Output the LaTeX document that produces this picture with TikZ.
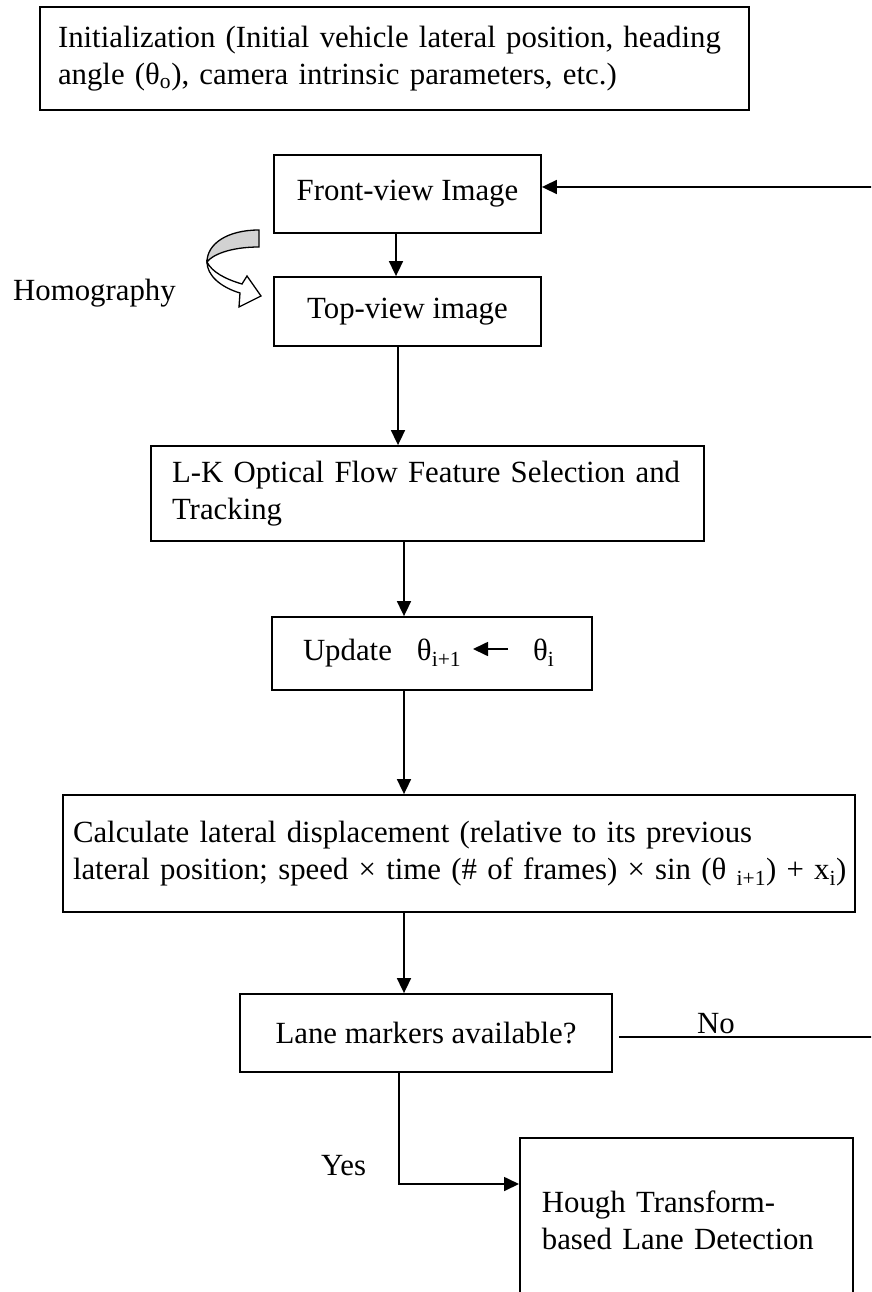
\documentclass[tikz,border=0pt]{standalone}
\usepackage{fontspec}
\setmainfont{Liberation Serif}
\usetikzlibrary{arrows.meta}
\tikzset{flowbox/.style={draw, line width=1.8pt, inner sep=0pt, align=center}}
\tikzset{flowline/.style={line width=1.7pt, -{Triangle[length=15pt,width=14pt]}}}
\tikzset{plainline/.style={line width=1.7pt}}

\begin{document}
\begin{tikzpicture}[x=1pt, y=-1pt, font=\fontsize{30.8}{37}\selectfont]
   \clip (0,0) rectangle (871,1292);
   \fill[white] (0,0) rectangle (871,1292);
   \node[flowbox, align=left, text width=673pt, inner xsep=18pt, minimum height=103pt] (init) at (394.5,58.5) {Initialization (Initial vehicle lateral position, heading\\angle (θ\textsubscript{o}), camera intrinsic parameters, etc.)};
   \node[flowbox, minimum width=267pt, minimum height=78pt] (front) at (407.5,194) {Front-view Image};
   \node[flowbox, minimum width=267pt, minimum height=69pt] (top) at (407.5,311.5) {Top-view image};
   \node[anchor=base west, inner sep=0pt] (homog) at (13,300) {Homography};
   \node[flowbox, align=left, text width=511pt, inner xsep=21pt, minimum height=95pt] (lk) at (427.5,493.5) {L-K Optical Flow Feature Selection and\\Tracking};
   \node[flowbox, align=left, text width=258pt, inner xsep=31pt, minimum height=73pt] (upd) at (432,653.5) {\raisebox{-11pt}{\makebox[114pt][l]{Update}\makebox[116pt][l]{θ\textsubscript{i+1}}θ\textsubscript{i}}};
   \node[flowbox, align=left, text width=772pt, inner xsep=10pt, minimum height=117pt] (calc) at (459,853.5) {Calculate lateral displacement (relative to its previous\\\mbox{lateral position; speed × time (\# of frames) × sin (θ \textsubscript{i+1}) + x\textsubscript{i})}};
   \node[flowbox, minimum width=372pt, minimum height=78pt] (lane) at (426,1033) {Lane markers available?};
   \node[flowbox, anchor=north west, align=left, text width=289pt, inner xsep=22pt, minimum height=164pt] (hough) at (519,1137) {Hough Transform-\\based Lane Detection};
   \node[anchor=base west, inner sep=0pt] (yes) at (321,1175) {Yes};
   \node[anchor=base west, inner sep=0pt] (no) at (697,1033) {No};
   % homography arrow
   \filldraw[line width=1.3pt, fill=gray!35] (259,230) .. controls (227,230) and (207,244) .. (207,262) .. controls (212,255) and (230,247) .. (259,247) -- cycle;
   \filldraw[line width=1.3pt, fill=white] (207,262) .. controls (207,275) and (220,287) .. (240,293) -- (239,307) -- (261,296) -- (247,276) -- (242,284) .. controls (225,279) and (212,272) .. (207,262) -- cycle;
   % main flow
   \draw[flowline] ([xshift=-11.5pt]front.south) coordinate (a1) -- (a1 |- top.north);
   \draw[flowline] ([xshift=-9.5pt]top.south) coordinate (a2) -- (a2 |- lk.north);
   \draw[flowline] ([xshift=-23.5pt]lk.south) coordinate (a3) -- (a3 |- upd.north);
   \draw[flowline] ([xshift=-28pt]upd.south) coordinate (a4) -- (a4 |- calc.north);
   \draw[flowline] ([xshift=-55pt]calc.south) coordinate (a5) -- (a5 |- lane.north);
   \draw[flowline] ([xshift=76pt,yshift=4.5pt]upd.center) -- ++(-35,0);
   % no branch, back to the front view
   \draw[plainline] ([xshift=6pt,yshift=-4pt]lane.east) -- ++(260,0) coordinate (loop);
   \draw[flowline] (loop) |- ([yshift=7pt]front.east);
   % yes branch
   \coordinate (turn) at (399,1184);
   \draw[flowline] (lane.south -| turn) -- (turn) -- (turn -| hough.west);
\end{tikzpicture}
\end{document}
